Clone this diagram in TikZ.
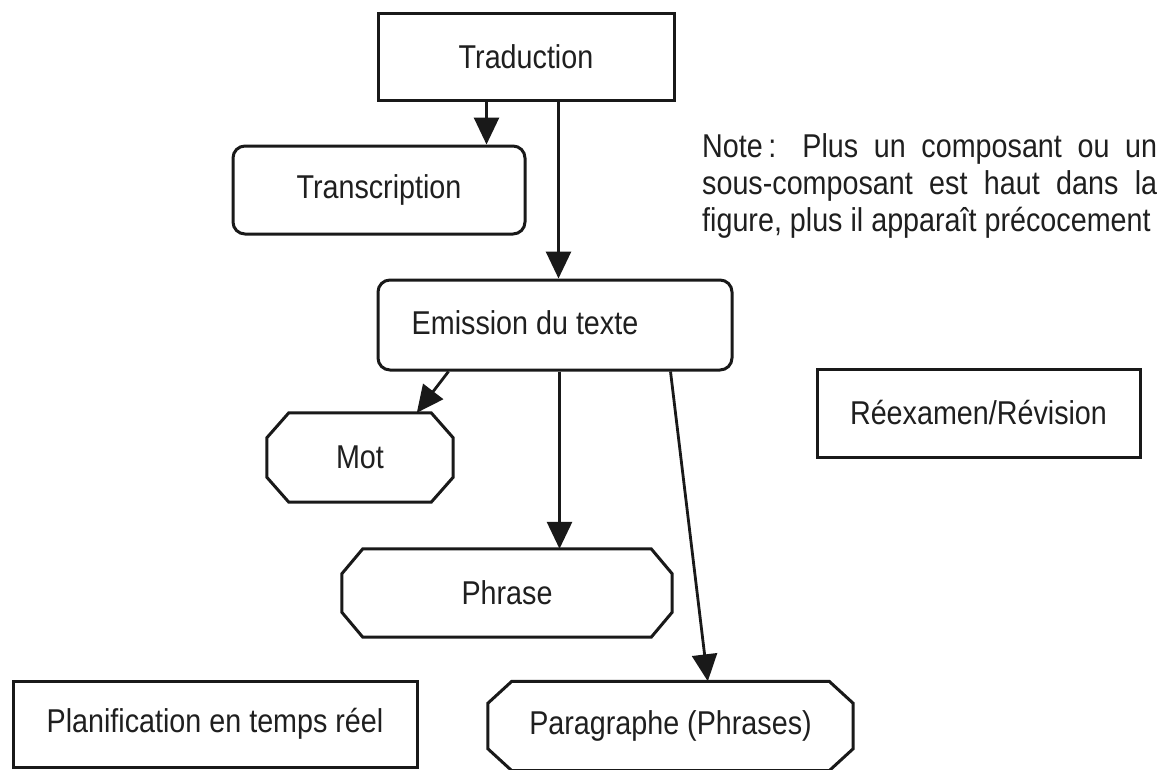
\documentclass[tikz,border=0pt]{standalone}
\usepackage{fontspec}
\setmainfont[FakeStretch=0.87]{Liberation Sans}
\usetikzlibrary{arrows.meta,calc}

% octagonal outline drawn around a (rectangular) node: #1 node, #2 x-chamfer, #3 y-chamfer
\newcommand\octframe[3]{%
  \draw[frame]
    ($(#1.north west)+(#2,0)$) -- ($(#1.north east)+(-#2,0)$) --
    ($(#1.north east)+(0,#3)$) -- ($(#1.south east)+(0,-#3)$) --
    ($(#1.south east)+(-#2,0)$) -- ($(#1.south west)+(#2,0)$) --
    ($(#1.south west)+(0,-#3)$) -- ($(#1.north west)+(0,#3)$) -- cycle;}

\begin{document}
\begin{tikzpicture}[x=1pt,y=-1pt,
  frame/.style={line width=3pt, draw=black!90, line join=miter},
  lbl/.style={font=\fontsize{33}{37}\selectfont, text=black!88},
  sqbox/.style={lbl, frame, rectangle, inner sep=0pt},
  rbox/.style={lbl, frame, rectangle, rounded corners=12pt, inner sep=0pt},
  octbox/.style={lbl, rectangle, inner sep=0pt},
  arr/.style={line width=2.8pt, draw=black!90, -{Triangle[length=27pt,width=25pt]}},
]
\useasboundingbox[fill=white] (0,0) rectangle (1166,769);

% components
\node[sqbox, minimum width=296pt, minimum height=87pt] (trad) at (526,56.5) {Traduction};
\node[rbox, minimum width=292pt, minimum height=88pt] (transc) at (379,190) {Transcription};
\node[rbox, minimum width=354pt, minimum height=90pt] (emis) at (555,325) {};
\node[lbl, inner sep=0pt] (emistxt) at (525,323) {Emission du texte};
\node[octbox, minimum width=186pt, minimum height=89pt] (mot) at (360,457.5) {Mot};
\node[octbox, minimum width=330pt, minimum height=88pt] (phrase) at (507,593) {Phrase};
\node[octbox, minimum width=365pt, minimum height=89pt] (para) at (670.5,726) {Paragraphe (Phrases)};
\node[sqbox, minimum width=404pt, minimum height=86pt] (plan) at (215,724) {Planification en temps réel};
\node[sqbox, minimum width=323pt, minimum height=88pt] (reex) at (978.5,413) {Réexamen/Révision};

\octframe{mot}{22}{25}
\octframe{phrase}{21}{25}
\octframe{para}{24}{22}

% note
\node[lbl, anchor=north west, align=left, inner sep=0pt] (note) at (702,133)
  {\makebox[455pt][s]{Note\,: Plus un composant ou un}\\
   \makebox[455pt][s]{sous-composant est haut dans la}\\
   figure, plus il apparaît précocement};

% connectors
\coordinate (t1) at ($(trad.south west)+(110,0)$);
\coordinate (t2) at ($(trad.south west)+(182,0)$);
\coordinate (e1) at ($(emis.south west)+(72,0)$);
\coordinate (e2) at ($(emis.south west)+(183,0)$);
\coordinate (e3) at ($(emis.south west)+(294,0)$);
\coordinate (m1) at ($(mot.north west)+(150,0)$);
\coordinate (p1) at ($(para.north west)+(220,0)$);

\draw[arr] (t1) -- (t1 |- transc.north);
\draw[arr] (t2) -- (t2 |- emis.north);
\draw[arr] (e1) -- (m1);
\draw[arr] (e2) -- (e2 |- phrase.north);
\draw[arr] (e3) -- (p1);
\end{tikzpicture}
\end{document}
